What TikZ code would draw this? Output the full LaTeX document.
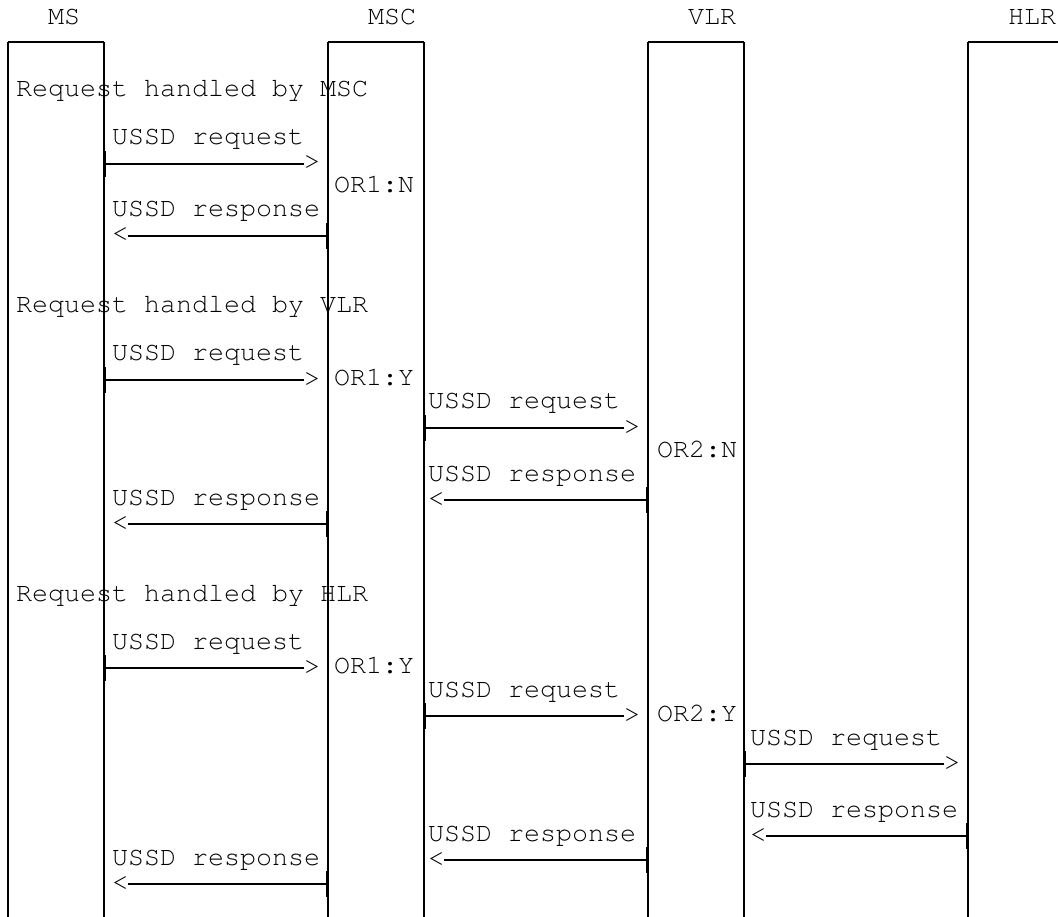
\documentclass[tikz,border=0pt]{standalone}
\usepackage[T1]{fontenc}
\newcommand\ussdfont{\fontencoding{T1}\fontfamily{pcr}\selectfont}
\usetikzlibrary{arrows.meta}

\tikzset{
	lbl/.style={anchor=base west, inner sep=0pt, font=\ussdfont\fontsize{26.67}{24}\selectfont},
	headchar/.style={lbl, text height=12pt, text depth=0pt, yshift=-1pt},
	life/.style={line width=1.1pt},
	boxtop/.style={line width=2pt},
	msg/.style={line width=1.8pt, arrows={Bar[width=26pt]-}},
}

\begin{document}
\begin{tikzpicture}[x=1pt,y=-1pt]
	\useasboundingbox (0,0) rectangle (1058,917);

	% entities
	\node[lbl] (ms)  at (48,25)   {MS};
	\node[lbl] (msc) at (368,25)  {MSC};
	\node[lbl] (vlr) at (688,25)  {VLR};
	\node[lbl] (hlr) at (1008,25) {HLR};

	% lifelines
	\coordinate (bot)  at (0,917);
	\coordinate (msL)  at (8,42);
	\coordinate (msR)  at (104,42);
	\coordinate (mscL) at (328,42);
	\coordinate (mscR) at (424,42);
	\coordinate (vlrL) at (648,42);
	\coordinate (vlrR) at (744,42);
	\coordinate (hlrL) at (968,42);
	\coordinate (hlrR) at (1058,42);

	\draw[life] (msL) -- (msL |- bot) (msR) -- (msR |- bot);
	\draw[life] (mscL) -- (mscL |- bot) (mscR) -- (mscR |- bot);
	\draw[life] (vlrL) -- (vlrL |- bot) (vlrR) -- (vlrR |- bot);
	\draw[life] (hlrL) -- (hlrL |- bot);
	\draw[boxtop] (msL) -- (msR);
	\draw[boxtop] (mscL) -- (mscR);
	\draw[boxtop] (vlrL) -- (vlrR);
	\draw[boxtop] (hlrL) -- (hlrR);

	% request handled by MSC
	\node[lbl] (case1) at (16,97) {Request handled by MSC};
	\node[lbl] (req1) at (112,145) {USSD request};
	\node[headchar] (req1h) at (304,169) {>};
	\draw[msg] (msR |- req1h.west) -- (req1h.west);
	\node[lbl] (or1n) at (334,193) {OR1:N};
	\node[lbl] (rsp1) at (112,217) {USSD response};
	\node[headchar] (rsp1h) at (112,241) {<};
	\draw[msg] (mscL |- rsp1h.east) -- (rsp1h.east);

	% request handled by VLR
	\node[lbl] (case2) at (16,313) {Request handled by VLR};
	\node[lbl] (req2) at (112,361) {USSD request};
	\node[headchar] (req2h) at (304,385) {>};
	\draw[msg] (msR |- req2h.west) -- (req2h.west);
	\node[lbl] (or1y) at (334,385) {OR1:Y};
	\node[lbl] (req3) at (428,409) {USSD request};
	\node[headchar] (req3h) at (624,433) {>};
	\draw[msg] (mscR |- req3h.west) -- (req3h.west);
	\node[lbl] (or2n) at (657,457) {OR2:N};
	\node[lbl] (rsp3) at (428,481) {USSD response};
	\node[headchar] (rsp3h) at (428,505) {<};
	\draw[msg] (vlrL |- rsp3h.east) -- (rsp3h.east);
	\node[lbl] (rsp2) at (112,505) {USSD response};
	\node[headchar] (rsp2h) at (112,529) {<};
	\draw[msg] (mscL |- rsp2h.east) -- (rsp2h.east);

	% request handled by HLR
	\node[lbl] (case3) at (16,601) {Request handled by HLR};
	\node[lbl] (req4) at (112,649) {USSD request};
	\node[headchar] (req4h) at (304,673) {>};
	\draw[msg] (msR |- req4h.west) -- (req4h.west);
	\node[lbl] (or1y2) at (334,673) {OR1:Y};
	\node[lbl] (req5) at (428,697) {USSD request};
	\node[headchar] (req5h) at (624,721) {>};
	\draw[msg] (mscR |- req5h.west) -- (req5h.west);
	\node[lbl] (or2y) at (657,721) {OR2:Y};
	\node[lbl] (req6) at (750,745) {USSD request};
	\node[headchar] (req6h) at (944,769) {>};
	\draw[msg] (vlrR |- req6h.west) -- (req6h.west);
	\node[lbl] (rsp6) at (750,817) {USSD response};
	\node[headchar] (rsp6h) at (750,841) {<};
	\draw[msg] (hlrL |- rsp6h.east) -- (rsp6h.east);
	\node[lbl] (rsp5) at (428,841) {USSD response};
	\node[headchar] (rsp5h) at (428,865) {<};
	\draw[msg] (vlrL |- rsp5h.east) -- (rsp5h.east);
	\node[lbl] (rsp4) at (112,865) {USSD response};
	\node[headchar] (rsp4h) at (112,889) {<};
	\draw[msg] (mscL |- rsp4h.east) -- (rsp4h.east);

\end{tikzpicture}
\end{document}
